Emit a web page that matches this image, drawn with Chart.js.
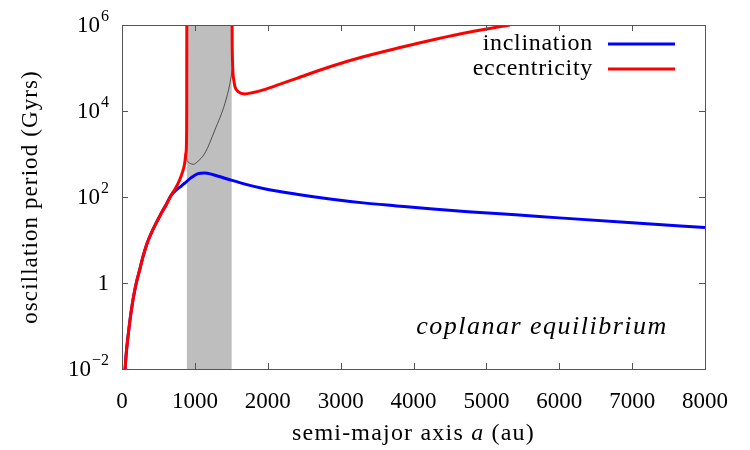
<!DOCTYPE html>
<html>
<head>
<meta charset="utf-8">
<script src="https://cdn.jsdelivr.net/npm/chart.js@4.4.1/dist/chart.umd.min.js"></script>
<style>
  html, body { margin: 0; padding: 0; background: #fff; }
  #wrap { width: 750px; height: 450px; }
</style>
</head>
<body>
<div id="wrap"><canvas id="periodChart"></canvas></div>
<script>
// semi-major axis (au) and oscillation period (Gyrs)
const incA      = [42, 60, 82, 105, 128, 160, 196, 240, 288, 340, 402, 470, 539, 610, 677, 750, 818, 860, 950, 1043, 1130, 1250, 1481, 1700, 1938, 2396, 2853, 3311, 3768, 4225, 4800, 5400, 6000, 7000, 8000];
const incPeriod = [0.01, 0.025, 0.056, 0.12, 0.23, 0.5, 1.0, 1.95, 4.1, 8, 14.5, 25, 42, 68, 112, 148, 182, 209, 282, 350, 363, 330, 251, 197, 158, 116, 90, 73, 62, 53, 45, 38.5, 32.7, 25.1, 19.5];

const eccA      = [42, 60, 82, 105, 128, 160, 196, 240, 288, 340, 402, 470, 539, 610, 677, 740, 791, 830, 860, 875, 882, 886, 888, 890, 1200, 1508, 1512, 1518, 1522, 1530, 1550, 1596, 1687, 1800, 1938, 2150, 2396, 2853, 3311, 3800, 4300, 4774, 5322];
const eccPeriod = [0.01, 0.025, 0.056, 0.12, 0.23, 0.5, 1.0, 1.95, 4.1, 8, 14.5, 25, 42, 68, 112, 166, 251, 380, 600, 1000, 1250, 2500, 10000, 10000000, null, 10000000, 400000, 120000, 78000, 58000, 37000, 28000, 25000, 27000, 31000, 41000, 57500, 107000, 182000, 295000, 468000, 690000, 1000000];

// thin branch inside the unstable band
const branchA      = [880, 886, 900, 940, 978, 1030, 1138, 1275, 1413, 1481, 1516];
const branchPeriod = [1150, 800, 680, 600, 575, 650, 1050, 3630, 15100, 43600, 100000];

const unstableBand = [890, 1505];

const xTicks = [0, 1000, 2000, 3000, 4000, 5000, 6000, 7000, 8000];
const yTicks = [1e-2, 1, 1e2, 1e4, 1e6];
const yTickLabels = [['10', '\u22122'], ['1', ''], ['10', '2'], ['10', '4'], ['10', '6']];

const serif = '"Liberation Serif", "DejaVu Serif", serif';

function toPoints(xs, ys) {
    return xs.map((x, i) => ({ x: x, y: ys[i] }));
}

// draws a run of [text, style] parts, centred on cx
function drawParts(ctx, parts, size, spacing, cx, cy) {
    ctx.letterSpacing = spacing + 'px';
    let total = 0;
    parts.forEach(p => { ctx.font = p[1] + size + 'px ' + serif; total += ctx.measureText(p[0]).width; });
    let tx = cx - total / 2;
    ctx.textAlign = 'left';
    parts.forEach(p => {
        ctx.font = p[1] + size + 'px ' + serif;
        ctx.fillText(p[0], tx, cy);
        tx += ctx.measureText(p[0]).width;
    });
    ctx.letterSpacing = '0px';
}

// Gray band, frame, inward ticks, y labels, titles, legend and note
const decorPlugin = {
    id: 'decor',
    beforeDatasetsDraw(chart) {
        const { ctx, chartArea: ca, scales: { x } } = chart;
        const x0 = x.getPixelForValue(unstableBand[0]);
        const x1 = x.getPixelForValue(unstableBand[1]);
        ctx.save();
        ctx.fillStyle = '#bebebe';
        ctx.fillRect(x0, ca.top, x1 - x0, ca.bottom - ca.top);
        ctx.restore();
    },
    afterDatasetsDraw(chart) {
        const { ctx, chartArea: ca, scales: { x, y } } = chart;
        ctx.save();

        // frame
        ctx.strokeStyle = '#555';
        ctx.lineWidth = 1;
        ctx.strokeRect(Math.round(ca.left) + 0.5, Math.round(ca.top) + 0.5,
            Math.round(ca.right - ca.left), Math.round(ca.bottom - ca.top));

        // inward tick marks on all four sides
        ctx.beginPath();
        const tl = 6;
        xTicks.forEach(v => {
            const px = Math.round(x.getPixelForValue(v)) + 0.5;
            ctx.moveTo(px, ca.bottom); ctx.lineTo(px, ca.bottom - tl);
            ctx.moveTo(px, ca.top); ctx.lineTo(px, ca.top + tl);
        });
        yTicks.forEach(v => {
            const py = Math.round(y.getPixelForValue(v)) + 0.5;
            ctx.moveTo(ca.left, py); ctx.lineTo(ca.left + tl, py);
            ctx.moveTo(ca.right, py); ctx.lineTo(ca.right - tl, py);
        });
        ctx.stroke();

        // y tick labels with superscript exponents
        ctx.fillStyle = '#000';
        ctx.textBaseline = 'middle';
        ctx.textAlign = 'left';
        yTicks.forEach((v, i) => {
            const py = y.getPixelForValue(v);
            const [base, exp] = yTickLabels[i];
            ctx.font = '23px ' + serif;
            const bw = ctx.measureText(base).width;
            ctx.font = '16px ' + serif;
            const ew = exp ? ctx.measureText(exp).width + 1 : 0;
            const right = ca.left - 13;
            ctx.font = '23px ' + serif;
            ctx.fillText(base, right - ew - bw, py + 1);
            if (exp) {
                ctx.font = '16px ' + serif;
                ctx.fillText(exp, right - ew + 1, py - 8);
            }
        });

        // x axis title with italic a
        drawParts(ctx, [['semi-major axis ', ''], ['a', 'italic '], [' (au)', '']], 24, 1.2,
            (ca.left + ca.right) / 2, 434);

        // y axis title, rotated
        ctx.save();
        ctx.translate(31, (ca.top + ca.bottom) / 2);
        ctx.rotate(-Math.PI / 2);
        drawParts(ctx, [['oscillation period (Gyrs)', '']], 23, 1.1, 0, 0);
        ctx.restore();

        // legend inside top right
        let ly = ca.top + 19;
        chart.data.datasets.forEach(ds => {
            if (!ds.label) return;
            ctx.font = '24px ' + serif;
            ctx.letterSpacing = '0.7px';
            ctx.textAlign = 'right';
            ctx.fillStyle = '#000';
            ctx.fillText(ds.label, ca.right - 112, ly);
            ctx.letterSpacing = '0px';
            ctx.strokeStyle = ds.borderColor;
            ctx.lineWidth = 3;
            ctx.beginPath();
            ctx.moveTo(ca.right - 97, ly);
            ctx.lineTo(ca.right - 30, ly);
            ctx.stroke();
            ly += 25;
        });

        // annotation
        drawParts(ctx, [['coplanar equilibrium', 'italic ']], 26, 1.5, 542, ca.bottom - 42);

        ctx.restore();
    }
};

const ctx = document.getElementById('periodChart');
new Chart(ctx.getContext('2d'), {
    type: 'line',
    data: {
        datasets: [
            {
                label: 'inclination',
                data: toPoints(incA, incPeriod),
                borderColor: '#0000ff',
                borderWidth: 3,
                pointRadius: 0,
                cubicInterpolationMode: 'monotone',
                order: 2
            },
            {
                label: 'eccentricity',
                data: toPoints(eccA, eccPeriod),
                borderColor: '#ff0000',
                borderWidth: 3,
                pointRadius: 0,
                spanGaps: false,
                cubicInterpolationMode: 'monotone',
                order: 1
            },
            {
                label: '',
                data: toPoints(branchA, branchPeriod),
                borderColor: '#333333',
                borderWidth: 0.8,
                pointRadius: 0,
                cubicInterpolationMode: 'monotone',
                order: 3
            }
        ]
    },
    options: {
        responsive: true,
        maintainAspectRatio: false,
        animation: false,
        layout: { padding: { left: 0, right: 45, top: 25, bottom: 0 } },
        plugins: {
            legend: { display: false },
            tooltip: { enabled: false }
        },
        scales: {
            x: {
                type: 'linear',
                min: 0,
                max: 8000,
                afterBuildTicks: scale => { scale.ticks = xTicks.map(v => ({ value: v })); },
                afterFit: scale => { scale.height = 81; },
                grid: { display: false, drawTicks: false },
                border: { display: false },
                ticks: {
                    color: '#000',
                    padding: 19,
                    maxRotation: 0,
                    font: { family: serif, size: 23 },
                    callback: v => String(v)
                }
            },
            y: {
                type: 'logarithmic',
                min: 1e-2,
                max: 1e6,
                afterBuildTicks: scale => { scale.ticks = yTicks.map(v => ({ value: v })); },
                afterFit: scale => { scale.width = 122; },
                grid: { display: false, drawTicks: false },
                border: { display: false },
                ticks: { display: false }
            }
        }
    },
    plugins: [decorPlugin]
});
</script>
</body>
</html>
